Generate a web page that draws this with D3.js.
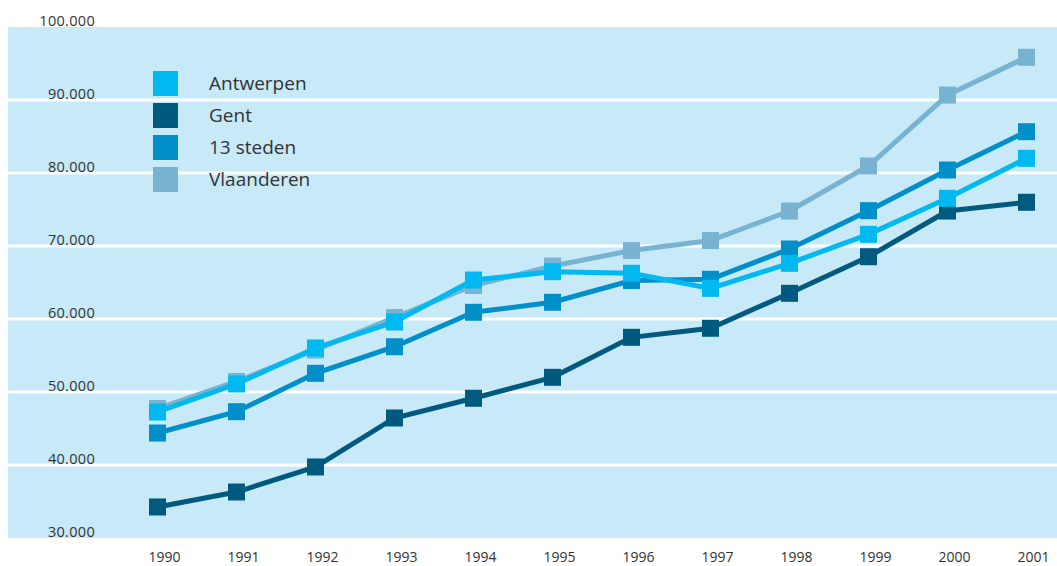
<!DOCTYPE html>
<html>
<head>
<meta charset="utf-8">
<script src="https://cdn.jsdelivr.net/npm/d3@7"></script>
<style>
  body { margin: 0; background: #fff; }
  svg { display: block; font-family: "Open Sans", sans-serif; }
</style>
</head>
<body>
<svg id="paper"></svg>
<script>
// data
let years = [1990, 1991, 1992, 1993, 1994, 1995, 1996, 1997, 1998, 1999, 2000, 2001];
let antwerpen  = [47260, 51100, 56030, 59590, 65340, 66480, 66260, 64200, 67630, 71600, 76530, 82010];
let gent       = [34250, 36300, 39730, 46440, 49140, 52010, 57490, 58730, 63520, 68530, 74790, 75990];
let steden13   = [44380, 47300, 52560, 56200, 60920, 62290, 65270, 65440, 69590, 74840, 80410, 85660];
let vlaanderen = [47740, 51440, 55750, 60200, 64590, 67260, 69380, 70750, 74790, 80960, 90680, 95850];
let yTicks = [30000, 40000, 50000, 60000, 70000, 80000, 90000, 100000];
let legendNames = ["Antwerpen", "Gent", "13 steden", "Vlaanderen"];

let width = 1057, height = 566;
let plot = {left: 8, right: 1057, top: 27, bottom: 538};

let colors = {
    "Antwerpen": "#00b9f0",
    "Gent": "#005a80",
    "13 steden": "#008fc8",
    "Vlaanderen": "#78b4d2"
};

let svg = d3.select("#paper")
    .attr("width", width)
    .attr("height", height);

let x = d3.scaleLinear().domain([1990, 2001]).range([157.5, 1026.5]);
let y = d3.scaleLinear().domain([30000, 100000]).range([plot.bottom, plot.top]);

let nl = d3.formatLocale({decimal: ",", thousands: ".", grouping: [3], currency: ["", ""]});
let fmt = nl.format(",");

// background
svg.append("rect")
    .attr("x", plot.left)
    .attr("y", plot.top)
    .attr("width", plot.right - plot.left)
    .attr("height", plot.bottom - plot.top)
    .style("fill", "#c7e9f8");

// gridlines (not on the edges)
svg.selectAll("line.grid")
    .data(yTicks.filter(d => d > 30000 && d < 100000))
    .enter()
    .append("line")
    .attr("class", "grid")
    .attr("x1", plot.left)
    .attr("x2", plot.right)
    .attr("y1", d => y(d))
    .attr("y2", d => y(d))
    .style("stroke", "#fff")
    .style("stroke-width", 3);

// y labels
svg.selectAll("text.ylab")
    .data(yTicks)
    .enter()
    .append("text")
    .attr("class", "ylab")
    .attr("x", 95)
    .attr("y", d => y(d) - 1)
    .attr("text-anchor", "end")
    .style("font-size", "14.5px")
    .style("letter-spacing", "0.3px")
    .style("fill", "#333")
    .text(d => fmt(d));

// x labels
svg.selectAll("text.xlab")
    .data(years)
    .enter()
    .append("text")
    .attr("class", "xlab")
    .attr("x", d => x(d) + 7)
    .attr("y", 562)
    .attr("text-anchor", "middle")
    .style("font-size", "14px")
    .style("fill", "#333")
    .text(d => d);

// series, bottom to top
let series = [
    {name: "Vlaanderen", values: vlaanderen},
    {name: "Gent", values: gent},
    {name: "13 steden", values: steden13},
    {name: "Antwerpen", values: antwerpen}
];

let line = d3.line()
    .x((d, i) => x(years[i]))
    .y(d => y(d));

let sq = 17;
series.forEach(function (s) {
    let g = svg.append("g");
    g.append("path")
        .attr("d", line(s.values))
        .style("fill", "none")
        .style("stroke", colors[s.name])
        .style("stroke-width", 5);
    g.selectAll("rect")
        .data(s.values)
        .enter()
        .append("rect")
        .attr("x", (d, i) => x(years[i]) - sq / 2)
        .attr("y", d => y(d) - sq / 2)
        .attr("width", sq)
        .attr("height", sq)
        .style("fill", colors[s.name]);
});

// legend
let legend = svg.append("g");
legendNames.forEach(function (name, i) {
    let ly = 71 + i * 32;
    legend.append("rect")
        .attr("x", 153)
        .attr("y", ly)
        .attr("width", 25)
        .attr("height", 25)
        .style("fill", colors[name]);
    legend.append("text")
        .attr("x", 209)
        .attr("y", ly + 12.5)
        .attr("dy", "0.35em")
        .style("font-size", "19px")
        .style("fill", "#333")
        .text(name);
});
</script>
</body>
</html>
